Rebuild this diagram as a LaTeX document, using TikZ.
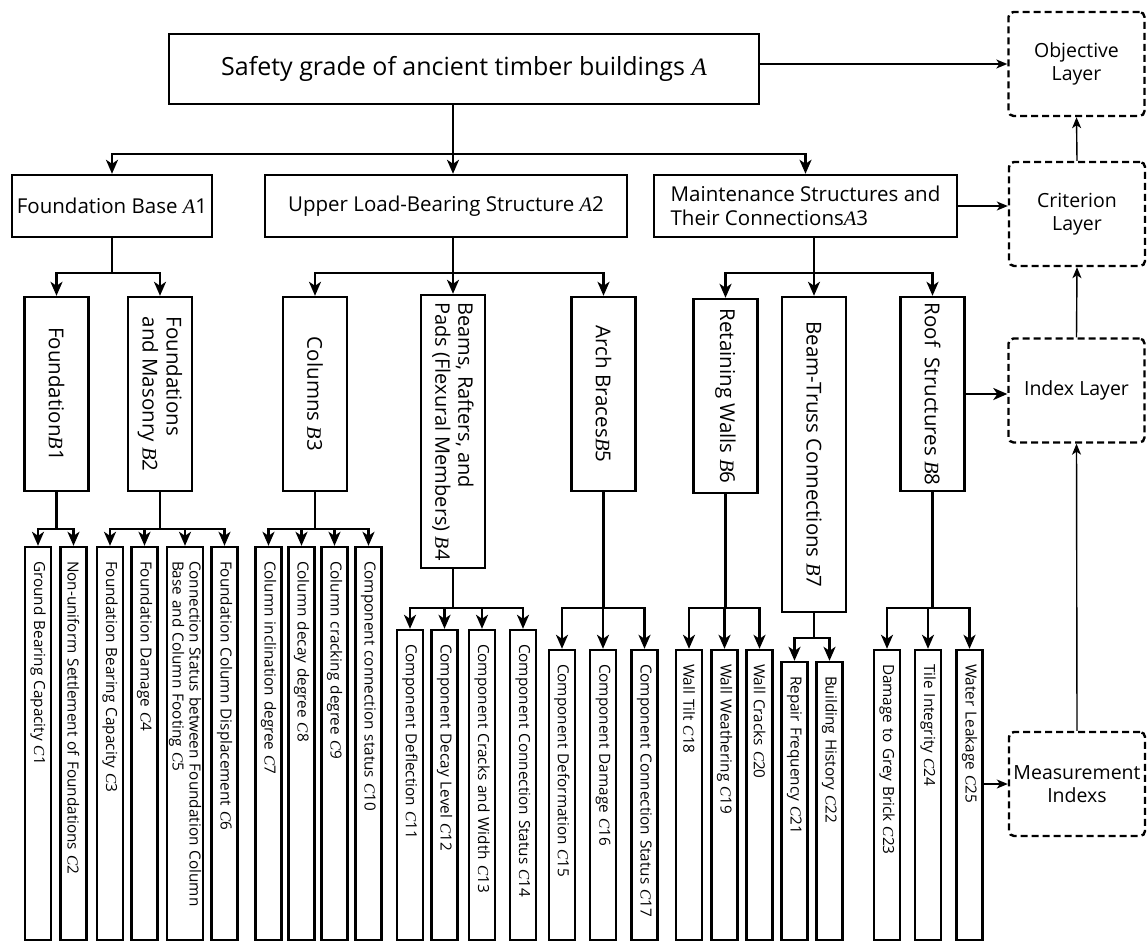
\documentclass[tikz,border=0pt]{standalone}
\usepackage{fontspec}
\setmainfont{Open Sans}
\newfontfamily\varfont{Liberation Serif}
\newcommand{\itlet}[1]{{\varfont\itshape #1}}
\usetikzlibrary{arrows.meta}

\begin{document}
\begin{tikzpicture}[x=1pt,y=-1pt,line width=2.4pt,
    >={Stealth[length=14pt,width=12pt,inset=4pt]},
    abox/.style={draw, inner sep=3pt, font=\fontsize{20.5}{24}\selectfont},
    bbox/.style={draw, rotate=-90, minimum height=64pt, inner sep=3pt,
      align=left, font=\fontsize{20.5}{24}\selectfont},
    cbox/.style={draw, rotate=-90, minimum height=26pt, inner xsep=14pt,
      inner ysep=1pt, align=left, font=\fontsize{15.3}{17}\selectfont},
    clong/.style={cbox, minimum width=393pt, text width=365pt},
    cmid/.style={cbox, minimum width=310pt, text width=282pt},
    cshort/.style={cbox, minimum width=290pt, text width=262pt},
    cmin/.style={cbox, minimum width=278pt, text width=250pt},
    layer/.style={draw, dash pattern=on 7pt off 4pt, rounded corners=5pt,
      minimum width=136pt, minimum height=104pt, inner sep=1pt, align=center,
      font=\fontsize{19.5}{23}\selectfont},
    thinarrow/.style={line width=1.4pt, -{Stealth[length=11pt,width=9pt,inset=3pt]}}]

      \useasboundingbox (0,0) rectangle (1148,942);

      % goal
      \node [abox, minimum width=590pt, minimum height=70pt,
      font=\fontsize{25}{29}\selectfont] (A) at (464,69)
      {Safety grade of ancient timber buildings \itlet{A}};

      % criteria
      \node [abox, minimum width=200pt, minimum height=62pt] (A1) at (112,206)
      {Foundation Base \itlet{A}1};
      \node [abox, minimum width=362pt, minimum height=62pt] (A2) at (446,206)
      {Upper Load-Bearing Structure \itlet{A}2};
      \node [abox, minimum width=303pt, minimum height=62pt, align=left] (A3)
      at (805.5,206) {Maintenance Structures and\\Their Connections\itlet{A}3};

      % indexes
      \node [bbox, minimum width=194pt] (B1) at (56.5,394) {Foundation\itlet{B}1};
      \node [bbox, minimum width=194pt] (B2) at (160,394)
      {Foundations\\and Masonry \itlet{B}2};
      \node [bbox, minimum width=194pt] (B3) at (315,394) {Columns \itlet{B}3};
      \node [bbox, minimum width=273pt, font=\fontsize{20}{23}\selectfont] (B4)
      at (453,431.5) {Beams, Rafters, and\\Pads (Flexural Members) \itlet{B}4};
      \node [bbox, minimum width=194pt] (B5) at (603.5,394) {Arch Braces\itlet{B}5};
      \node [bbox, minimum width=194pt] (B6) at (725.5,396)
      {Retaining Walls \itlet{B}6};
      \node [bbox, minimum width=315pt] (B7) at (814,454.5)
      {Beam-Truss Connections \itlet{B}7};
      \node [bbox, minimum width=194pt] (B8) at (932.5,394)
      {Roof\ \ Structures \itlet{B}8};

      % measurement indexes
      \node [clong] (C1) at (38,743.5) {Ground Bearing Capacity \itlet{C}1};
      \node [clong] (C2) at (73.5,743.5)
      {Non-uniform Settlement of Foundations \itlet{C}2};
      \node [clong] (C3) at (110,743.5) {Foundation Bearing Capacity \itlet{C}3};
      \node [clong] (C4) at (144.5,743.5) {Foundation Damage \itlet{C}4};
      \node [clong, minimum height=36pt] (C5) at (185,743.5)
      {Connection Status between Foundation Column\\Base and Column Footing \itlet{C}5};
      \node [clong] (C6) at (224.5,743.5)
      {Foundation Column Displacement \itlet{C}6};
      \node [clong] (C7) at (268.5,743.5) {Column inclination degree \itlet{C}7};
      \node [clong] (C8) at (301.5,743.5) {Column decay degree \itlet{C}8};
      \node [clong] (C9) at (334.5,743.5) {Column cracking degree \itlet{C}9};
      \node [clong] (C10) at (368.5,743.5)
      {Component connection status \itlet{C}10};
      \node [cmid] (C11) at (410,785) {Component Deflection \itlet{C}11};
      \node [cmid] (C12) at (444.5,785) {Component Decay Level \itlet{C}12};
      \node [cmid] (C13) at (482,785) {Component Cracks and Width \itlet{C}13};
      \node [cmid] (C14) at (523,785) {Component Connection Status \itlet{C}14};
      \node [cshort] (C15) at (562,795) {Component Deformation \itlet{C}15};
      \node [cshort] (C16) at (603,795) {Component Damage \itlet{C}16};
      \node [cshort] (C17) at (644.5,795)
      {Component Connection Status \itlet{C}17};
      \node [cshort] (C18) at (689,795) {Wall Tilt \itlet{C}18};
      \node [cshort] (C19) at (724.5,795) {Wall Weathering \itlet{C}19};
      \node [cshort] (C20) at (759.5,795) {Wall Cracks \itlet{C}20};
      \node [cmin] (C21) at (794.5,801) {Repair Frequency \itlet{C}21};
      \node [cmin] (C22) at (829.5,801) {Building History \itlet{C}22};
      \node [cshort] (C23) at (887,795) {Damage to Grey Brick \itlet{C}23};
      \node [cshort] (C24) at (928,795) {Tile Integrity \itlet{C}24};
      \node [cshort] (C25) at (969.5,795) {Water Leakage \itlet{C}25};

      % layer names
      \node [layer] (obj) at (1076.5,64) {Objective\\Layer};
      \node [layer] (crit) at (1077,214) {Criterion\\Layer};
      \node [layer] (idx) at (1076.5,390.5) {Index Layer};
      \node [layer] (meas) at (1077,784) {Measurement\\Indexs};

      % goal to criteria
      \draw (A.south -| B4.west) -- ++(0,49) coordinate (abar);
      \draw [->] (abar) -| (A1.north);
      \draw [->] (abar) -- (abar |- A2.north);
      \draw [->] (abar) -| (A3.north);

      % criteria to indexes
      \draw (A1.south) -- ++(0,35) coordinate (a1bar);
      \draw [->] (a1bar) -| (B1.west);
      \draw [->] (a1bar) -| (B2.west);
      \draw (A2.south -| B4.west) -- ++(0,35) coordinate (a2bar);
      \draw [->] (a2bar) -| (B3.west);
      \draw [->] (a2bar) -- (B4.west);
      \draw [->] (a2bar) -| (B5.west);
      \draw (A3.south -| B7.west) -- ++(0,35) coordinate (a3bar);
      \draw [->] (a3bar) -| (B6.west);
      \draw [->] (a3bar) -- (B7.west);
      \draw [->] (a3bar) -| (B8.west);

      % indexes to measurement indexes
      \draw (B1.east) -- ++(0,37) coordinate (b1bar);
      \draw [->] (b1bar) -| (C1.west);
      \draw [->] (b1bar) -| (C2.west);
      \draw (B2.east) -- ++(0,37) coordinate (b2bar);
      \draw [->] (b2bar) -| (C3.west);
      \draw [->] (b2bar) -| (C4.west);
      \draw [->] (b2bar) -| (C5.west);
      \draw [->] (b2bar) -| (C6.west);
      \draw (B3.east) -- ++(0,37) coordinate (b3bar);
      \draw [->] (b3bar) -| (C7.west);
      \draw [->] (b3bar) -| (C8.west);
      \draw [->] (b3bar) -| (C9.west);
      \draw [->] (b3bar) -| (C10.west);
      \draw (B4.east) -- ++(0,39) coordinate (b4bar);
      \draw [->] (b4bar) -| (C11.west);
      \draw [->] (b4bar) -| (C12.west);
      \draw [->] (b4bar) -| (C13.west);
      \draw [->] (b4bar) -| (C14.west);
      \draw (B5.east) -- ++(0,116) coordinate (b5bar);
      \draw [->] (b5bar) -| (C15.west);
      \draw [->] (b5bar) -| (C16.west);
      \draw [->] (b5bar) -| (C17.west);
      \draw (B6.east) -- ++(0,114) coordinate (b6bar);
      \draw [->] (b6bar) -| (C18.west);
      \draw [->] (b6bar) -| (C19.west);
      \draw [->] (b6bar) -| (C20.west);
      \draw (B7.east) -- ++(0,25) coordinate (b7bar);
      \draw [->] (b7bar) -| (C21.west);
      \draw [->] (b7bar) -| (C22.west);
      \draw (B8.east) -- ++(0,116) coordinate (b8bar);
      \draw [->] (b8bar) -| (C23.west);
      \draw [->] (b8bar) -| (C24.west);
      \draw [->] (b8bar) -| (C25.west);

      % layer arrows
      \draw [thinarrow] (A.east |- obj.west) -- (obj.west);
      \draw [thinarrow] (A3.east) -- (A3.east -| crit.west);
      \draw [->] (B8.north) -- (B8.north -| idx.west);
      \draw [thinarrow] (C25.north |- meas.west) -- (meas.west);
      \draw [thinarrow] (meas.north) -- (idx.south);
      \draw [thinarrow] (idx.north) -- (crit.south);
      \draw [thinarrow] (crit.north) -- (obj.south);

\end{tikzpicture}
\end{document}
